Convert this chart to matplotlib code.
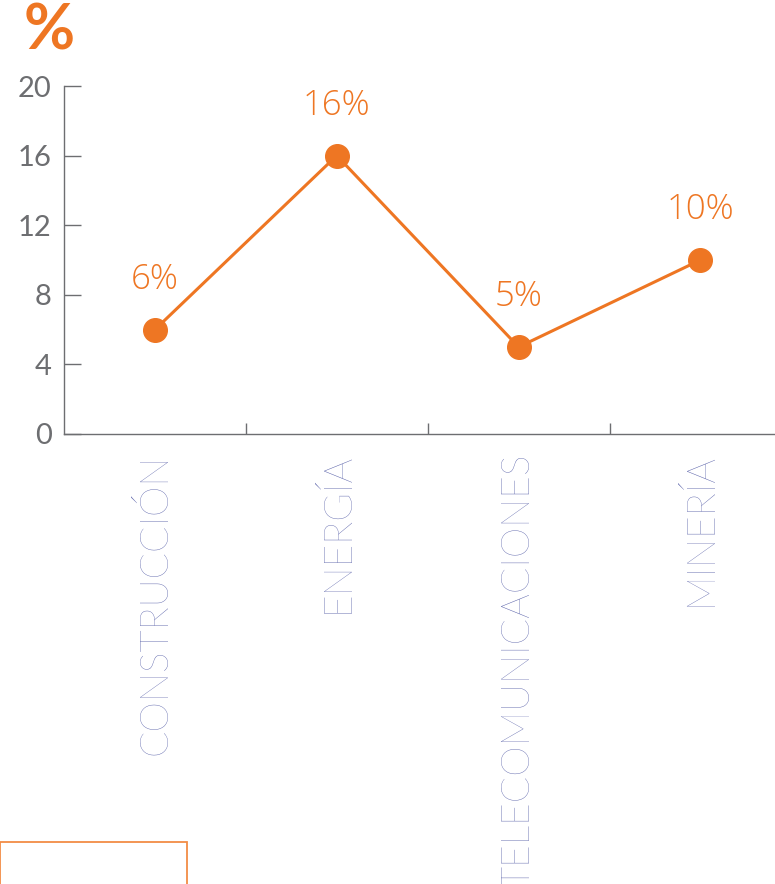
import matplotlib.pyplot as plt
from matplotlib.patches import Rectangle

# data
sectores = ['CONSTRUCCIÓN', 'ENERGÍA', 'TELECOMUNICACIONES', 'MINERÍA']
valores = [6, 16, 5, 10]
etiquetas = ['6%', '16%', '5%', '10%']
yticks = [0, 4, 8, 12, 16, 20]

naranja = '#ee7623'
gris = '#6d6e71'
lila = '#5c64aa'

fig = plt.figure(figsize=(7.75, 8.84), dpi=100)
ax = fig.add_axes([64 / 775, 1 - 434 / 884, 1 - 64 / 775, (434 - 86) / 884])

x = list(range(len(sectores)))
ax.plot(x, valores, color=naranja, linewidth=2.2, marker='o', markersize=17, zorder=3, clip_on=False)

for xi, v, lab in zip(x, valores, etiquetas):
    ax.annotate(lab, (xi, v), xytext=(0, 36), textcoords='offset points',
                ha='center', va='center', color=naranja, fontsize=25,
                family='Open Sans', weight='light')

ax.set_xlim(-0.5, 3.41)
ax.set_ylim(0, 20)
ax.set_yticks(yticks)
ax.set_yticklabels([str(t) for t in yticks], color=gris, fontsize=21, family='Lato')
ax.tick_params(axis='y', direction='in', length=12, width=1, color=gris, pad=9)

ax.set_xticks([0.5, 1.5, 2.5])
ax.set_xticklabels([])
ax.tick_params(axis='x', direction='in', length=8, width=1, color=gris)

for s in ['top', 'right']:
    ax.spines[s].set_visible(False)
for s in ['left', 'bottom']:
    ax.spines[s].set_color(gris)
    ax.spines[s].set_linewidth(1)

for xi, nombre in zip(x, sectores):
    ax.text(xi, -1.1, nombre, rotation=90, ha='center', va='top', color=lila,
            fontsize=28, family='Lato', weight='light', transform=ax.transData,
            clip_on=False)

fig.text(24 / 775, 1 - 32 / 884, '%', color=naranja, fontsize=45, weight='bold',
         family='Lato', ha='left', va='center')

fig.patches.append(Rectangle((0, -0.1), 187 / 775, 0.1 + (884 - 842) / 884,
                             transform=fig.transFigure, fill=False,
                             edgecolor='#f28c45', linewidth=1.3))

fig.savefig('out.png', dpi=100)
